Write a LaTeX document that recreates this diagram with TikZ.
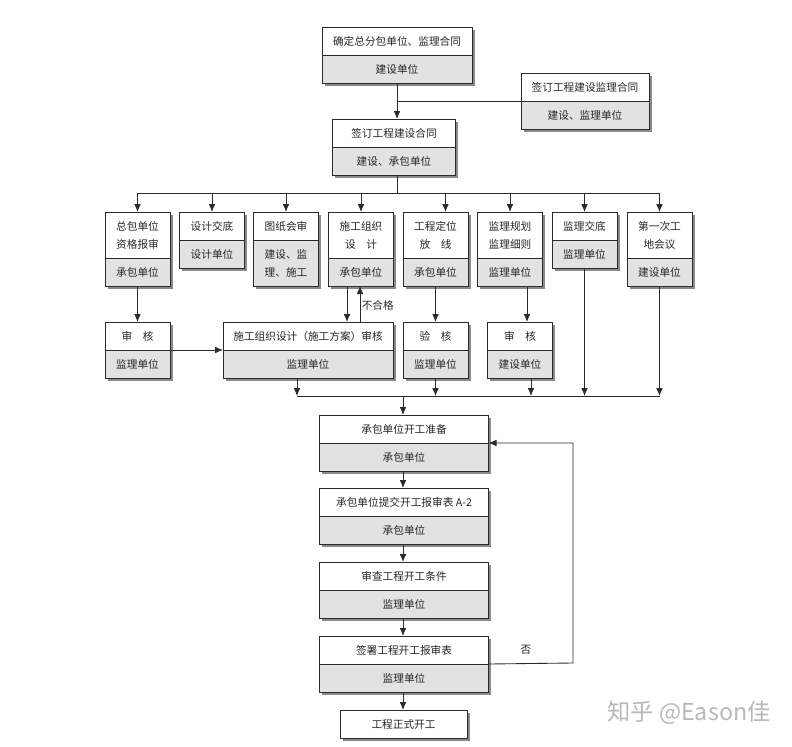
\documentclass[tikz,border=0pt]{standalone}
\usepackage{fontspec}
\usepackage{tikz}
\usetikzlibrary{positioning,shadows,calc,arrows.meta}
\newfontfamily\cjk{Noto Sans CJK SC}
\definecolor{FlowLine}{HTML}{2B2B2B}
\definecolor{FlowUnit}{HTML}{E2E2E2}
\definecolor{FlowShade}{HTML}{8A8A8A}
\tikzset{
  head/.style={draw=FlowLine,fill=white,line width=.6pt,inner sep=0pt,outer sep=0pt,
    align=center,minimum height=21pt,text=black!85,
    font=\cjk\fontsize{8}{13.5}\selectfont,
    drop shadow={shadow xshift=2pt,shadow yshift=-2pt,fill=FlowShade,opacity=1}},
  unit/.style={head,fill=FlowUnit},
  tall/.style={minimum height=34.5pt},
  wire/.style={FlowLine,line width=.65pt},
  arr/.style={wire,-{Latex[length=6pt,width=5pt]}},
  lbl/.style={text=black!85,inner sep=1pt,font=\cjk\fontsize{8}{10}\selectfont}
}

\begin{document}
\begin{tikzpicture}[x=.75pt,y=-.75pt]
\path[use as bounding box] (0,0) rectangle (792,746);
% contracts
\node[head,minimum width=112.5pt,anchor=north] (qd) at (397,27) {确定总分包单位、监理合同};
\node[unit,minimum width=112.5pt,below=0pt of qd] (qd-u) {建设单位};
\node[head,minimum width=96pt,anchor=north] (jl) at (585,73) {签订工程建设监理合同};
\node[unit,minimum width=96pt,below=0pt of jl] (jl-u) {建设、监理单位};
\node[head,minimum width=92.25pt,anchor=north] (ht) at (394,119) {签订工程建设合同};
\node[unit,minimum width=92.25pt,below=0pt of ht] (ht-u) {建设、承包单位};
% preparation row
\node[head,tall,minimum width=48.75pt,anchor=north] (b1) at (137.5,212) {总包单位\\资格报审};
\node[unit,minimum width=48.75pt,below=0pt of b1] (b1-u) {承包单位};
\node[head,minimum width=48.75pt,anchor=north] (b2) at (212,212) {设计交底};
\node[unit,minimum width=48.75pt,below=0pt of b2] (b2-u) {设计单位};
\node[head,minimum width=48.75pt,anchor=north] (b3) at (286,212) {图纸会审};
\node[unit,tall,minimum width=48.75pt,below=0pt of b3] (b3-u) {建设、监\\理、施工};
\node[head,tall,minimum width=48.75pt,anchor=north] (b4) at (361,212) {施工组织\\设\quad 计};
\node[unit,minimum width=48.75pt,below=0pt of b4] (b4-u) {承包单位};
\node[head,tall,minimum width=48.75pt,anchor=north] (b5) at (435.5,212) {工程定位\\放\quad 线};
\node[unit,minimum width=48.75pt,below=0pt of b5] (b5-u) {承包单位};
\node[head,tall,minimum width=48.75pt,anchor=north] (b6) at (510,212) {监理规划\\监理细则};
\node[unit,minimum width=48.75pt,below=0pt of b6] (b6-u) {监理单位};
\node[head,minimum width=48.75pt,anchor=north] (b7) at (584.5,212) {监理交底};
\node[unit,minimum width=48.75pt,below=0pt of b7] (b7-u) {监理单位};
\node[head,tall,minimum width=48.75pt,anchor=north] (b8) at (659.5,212) {第一次工\\地会议};
\node[unit,minimum width=48.75pt,below=0pt of b8] (b8-u) {建设单位};
% review row
\node[head,minimum width=48.75pt,anchor=north] (r1) at (137.5,322) {审\quad 核};
\node[unit,minimum width=48.75pt,below=0pt of r1] (r1-u) {监理单位};
\node[head,minimum width=127.5pt,anchor=north] (r2) at (308,322) {施工组织设计（施工方案）审核};
\node[unit,minimum width=127.5pt,below=0pt of r2] (r2-u) {监理单位};
\node[head,minimum width=48.75pt,anchor=north] (r3) at (435.5,322) {验\quad 核};
\node[unit,minimum width=48.75pt,below=0pt of r3] (r3-u) {监理单位};
\node[head,minimum width=48.75pt,anchor=north] (r4) at (520,322) {审\quad 核};
\node[unit,minimum width=48.75pt,below=0pt of r4] (r4-u) {建设单位};
% start-up chain
\node[head,minimum width=126.75pt,anchor=north] (c1) at (404,415) {承包单位开工准备};
\node[unit,minimum width=126.75pt,below=0pt of c1] (c1-u) {承包单位};
\node[head,minimum width=126.75pt,anchor=north] (c2) at (404,488) {承包单位提交开工报审表 A-2};
\node[unit,minimum width=126.75pt,below=0pt of c2] (c2-u) {承包单位};
\node[head,minimum width=126.75pt,anchor=north] (c3) at (404,562) {审查工程开工条件};
\node[unit,minimum width=126.75pt,below=0pt of c3] (c3-u) {监理单位};
\node[head,minimum width=126.75pt,anchor=north] (c4) at (404,636) {签署工程开工报审表};
\node[unit,minimum width=126.75pt,below=0pt of c4] (c4-u) {监理单位};
\node[head,minimum width=95.25pt,anchor=north] (c5) at (403.5,710) {工程正式开工};
% connectors
\coordinate (bus1) at (397,193);
\coordinate (bus2) at (403,396);
\coordinate (fb) at (573,663);
\draw[arr] (qd-u.south) -- (qd-u.south |- ht.north);
\draw[wire] (jl-u.north west) -- (jl-u.north west -| qd-u.south);
\draw[wire] (ht-u.south -| bus1) -- (bus1);
\draw[wire] (b1.north |- bus1) -- (b8.north |- bus1);
\foreach \b in {b1,b2,b3,b4,b6,b7,b8}
  \draw[arr] (\b.north |- bus1) -- (\b.north);
\draw[arr] ($(b5.north |- bus1)+(10,0)$) -- ($(b5.north)+(10,0)$);
\draw[arr] (b1-u.south) -- (r1.north);
\draw[arr] ($(b4-u.south)+(-14,0)$) -- ($(r2.north -| b4-u.south)+(-14,0)$);
\draw[arr] ($(r2.north -| b4-u.south)+(-1,0)$) -- ($(b4-u.south)+(-1,0)$)
  node[lbl,right,pos=.45] (ng) {不合格};
\draw[arr] (b5-u.south) -- (b5-u.south |- r3.north);
\draw[arr] ($(b6-u.south)+(17,0)$) -- ($(b6-u.south |- r4.north)+(17,0)$);
\draw[arr] (r1-u.north east) -- (r2-u.north west);
\draw[wire] ($(r2-u.south |- bus2)+(-11,0)$) -- (b8-u.south |- bus2);
\draw[arr] ($(r2-u.south)+(-11,0)$) -- ($(r2-u.south |- bus2)+(-11,0)$);
\draw[arr] (r3-u.south) -- (r3-u.south |- bus2);
\draw[arr] ($(r4-u.south)+(11,0)$) -- ($(r4-u.south |- bus2)+(11,0)$);
\draw[arr] (b7-u.south) -- (b7-u.south |- bus2);
\draw[arr] (b8-u.south) -- (b8-u.south |- bus2);
\draw[arr] (bus2) -- (bus2 |- c1.north);
\draw[arr] (c1-u.south -| bus2) -- (bus2 |- c2.north);
\draw[arr] (c2-u.south -| bus2) -- (bus2 |- c3.north);
\draw[arr] (c3-u.south -| bus2) -- (bus2 |- c4.north);
\draw[arr] (c4-u.south -| bus2) -- (bus2 |- c5.north);
\draw[arr] (c4-u.north east) -- (fb) |- (c1-u.north east);
\node[lbl] (no) at (526,650) {否};
\node[text=black!28,font=\cjk\fontsize{17.5}{17.5}\selectfont] (wm) at (689,713) {知乎 @Eason佳};
\end{tikzpicture}
\end{document}
